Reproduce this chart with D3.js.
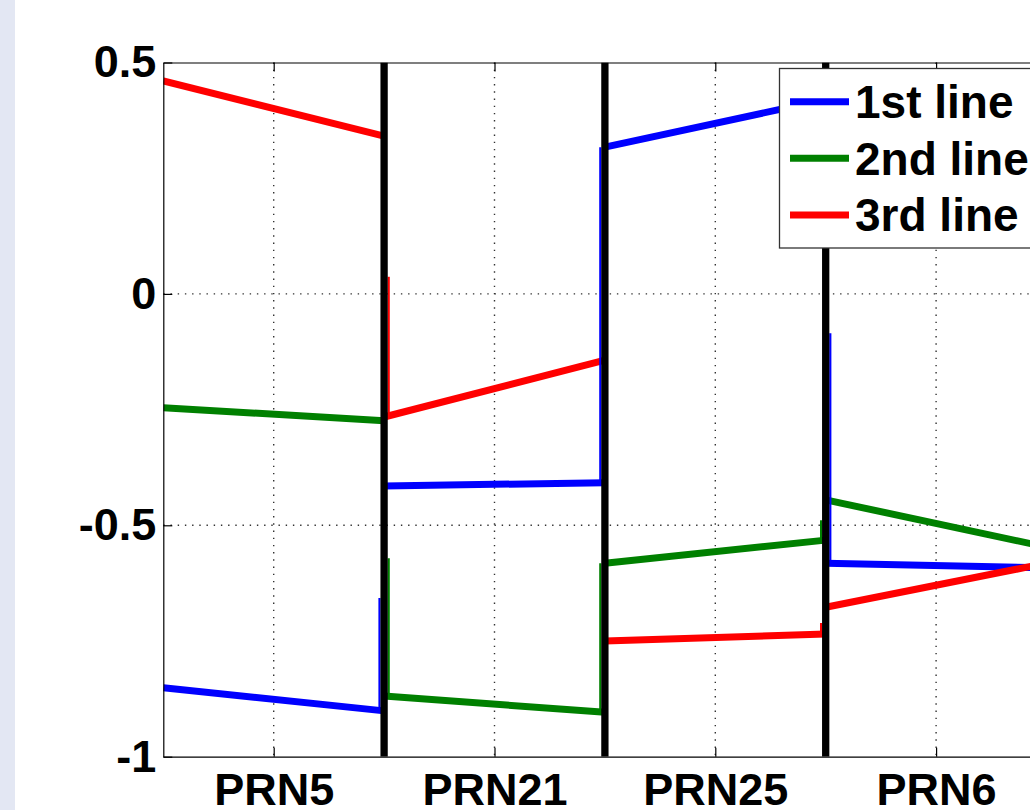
<!DOCTYPE html>
<html>
<head>
<meta charset="utf-8">
<script src="https://cdn.jsdelivr.net/npm/d3@7/dist/d3.min.js"></script>
<style>
  html, body { margin: 0; padding: 0; background: #ffffff; }
  svg { display: block; }
</style>
</head>
<body>
<svg id="chart" width="1030" height="810"></svg>
<script>
// ---------- data ----------
const categories = ["PRN5", "PRN21", "PRN25", "PRN6"];
const categoryTicks = [0.5, 1.5, 2.5, 3.5];
const boundaries = [1, 2, 3];
const yTicks = [-1, -0.5, 0, 0.5];
const yTickLabels = ["-1", "-0.5", "0", "0.5"];
const seriesNames = ["1st line", "2nd line", "3rd line"];
const seriesColors = ["#0000ff", "#008000", "#ff0000"];

// [start, end] value of each line inside each PRN section
const line1 = [[-0.851, -0.901], [-0.415, -0.408], [0.317, 0.420], [-0.582, -0.592]];
const line2 = [[-0.246, -0.274], [-0.869, -0.904], [-0.582, -0.532], [-0.445, -0.547]];
const line3 = [[0.460, 0.341], [-0.266, -0.143], [-0.750, -0.735], [-0.677, -0.582]];

// visible jump stubs at section boundaries: [boundary, side(-1 left / +1 right), from, to]
const jumps1 = [[1, -1, -0.657, -0.901], [2, -1, 0.317, -0.408], [3, 1, -0.085, -0.582]];
const jumps2 = [[1, 1, -0.571, -0.869], [2, -1, -0.582, -0.904], [3, -1, -0.489, -0.532]];
const jumps3 = [[1, 1, 0.037, -0.266], [3, -1, -0.711, -0.735]];

const lines = [line1, line2, line3];
const jumps = [jumps1, jumps2, jumps3];

// ---------- layout ----------
const svg = d3.select("#chart");
const W = 1030, H = 810;
const mLeft = 163.3, mRight = 1046.5, mTop = 62.5, mBottom = 756.7;
const FONT = "'Liberation Sans', Arial, Helvetica, sans-serif";

svg.append("rect").attr("x", 0).attr("y", 0).attr("width", W).attr("height", H).attr("fill", "#ffffff");
svg.append("rect").attr("x", 0).attr("y", 0).attr("width", 15).attr("height", H).attr("fill", "#e3e7f3");

const x = d3.scaleLinear().domain([0, 4]).range([mLeft, mRight]);
const y = d3.scaleLinear().domain([-1, 0.5]).range([mBottom, mTop]);

svg.append("defs").append("clipPath").attr("id", "plotclip")
  .append("rect").attr("x", mLeft).attr("y", mTop).attr("width", mRight - mLeft).attr("height", mBottom - mTop);

// ---------- grid ----------
const grid = svg.append("g").attr("stroke", "#333").attr("stroke-width", 1.4)
  .attr("stroke-dasharray", "1.4,5.8");
grid.selectAll("line.gx").data(categoryTicks).join("line")
  .attr("x1", d => x(d)).attr("x2", d => x(d)).attr("y1", mTop).attr("y2", mBottom);
grid.selectAll("line.gy").data(yTicks.filter(v => v > -1 && v < 0.5)).join("line")
  .attr("x1", mLeft).attr("x2", mRight).attr("y1", d => y(d)).attr("y2", d => y(d));

// ---------- data lines ----------
const plot = svg.append("g").attr("clip-path", "url(#plotclip)");

lines.forEach((ln, si) => {
  ln.forEach((seg, i) => {
    plot.append("path")
      .attr("d", d3.line().x(d => x(d[0])).y(d => y(d[1]))([[i, seg[0]], [i + 1, seg[1]]]))
      .attr("fill", "none").attr("stroke", seriesColors[si]).attr("stroke-width", 7)
      .attr("stroke-linecap", "butt");
  });
});

jumps.forEach((js, si) => {
  plot.selectAll(null).data(js).join("line")
    .attr("x1", d => x(d[0]) + d[1] * 4.6).attr("x2", d => x(d[0]) + d[1] * 4.6)
    .attr("y1", d => y(d[2])).attr("y2", d => y(d[3]))
    .attr("stroke", seriesColors[si]).attr("stroke-width", 2.2);
});

// black section dividers
plot.selectAll("line.div").data(boundaries).join("line")
  .attr("x1", d => x(d)).attr("x2", d => x(d)).attr("y1", mTop).attr("y2", mBottom)
  .attr("stroke", "#000").attr("stroke-width", 7.3);

// ---------- axes ----------
const axisStyle = g => {
  g.select(".domain").attr("stroke", "#000").attr("stroke-width", 1.2);
  g.selectAll(".tick line").attr("stroke", "#000").attr("stroke-width", 1.2);
  g.selectAll("text").attr("font-family", FONT).attr("font-weight", "bold")
    .attr("font-size", 45).attr("fill", "#000");
};

svg.append("g").attr("transform", `translate(0,${mBottom})`)
  .call(d3.axisBottom(x).tickValues(categoryTicks).tickFormat((d, i) => categories[i])
    .tickSize(-9).tickSizeOuter(0).tickPadding(16))
  .call(axisStyle);

svg.append("g").attr("transform", `translate(0,${mTop})`)
  .call(d3.axisTop(x).tickValues(categoryTicks).tickFormat("").tickSize(-9).tickSizeOuter(0))
  .call(axisStyle);

svg.append("g").attr("transform", `translate(${mLeft},0)`)
  .call(d3.axisLeft(y).tickValues(yTicks).tickFormat((d, i) => yTickLabels[i])
    .tickSize(-9).tickSizeOuter(0).tickPadding(7))
  .call(axisStyle);

svg.append("g").attr("transform", `translate(${mRight},0)`)
  .call(d3.axisRight(y).tickValues(yTicks).tickFormat("").tickSize(-9).tickSizeOuter(0))
  .call(axisStyle);

// ---------- legend ----------
const lg = svg.append("g");
lg.append("rect").attr("x", 779.5).attr("y", 68.5).attr("width", 280).attr("height", 179.5)
  .attr("fill", "#fff").attr("stroke", "#333").attr("stroke-width", 1.3);
const rowY = [101.7, 158.3, 215];
seriesNames.forEach((name, i) => {
  lg.append("line").attr("x1", 790).attr("x2", 849).attr("y1", rowY[i]).attr("y2", rowY[i])
    .attr("stroke", seriesColors[i]).attr("stroke-width", 7);
  lg.append("text").attr("x", 855).attr("y", rowY[i] + 16.3)
    .attr("font-family", FONT).attr("font-weight", "bold").attr("font-size", 46)
    .attr("fill", "#000").text(name);
});
</script>
</body>
</html>
